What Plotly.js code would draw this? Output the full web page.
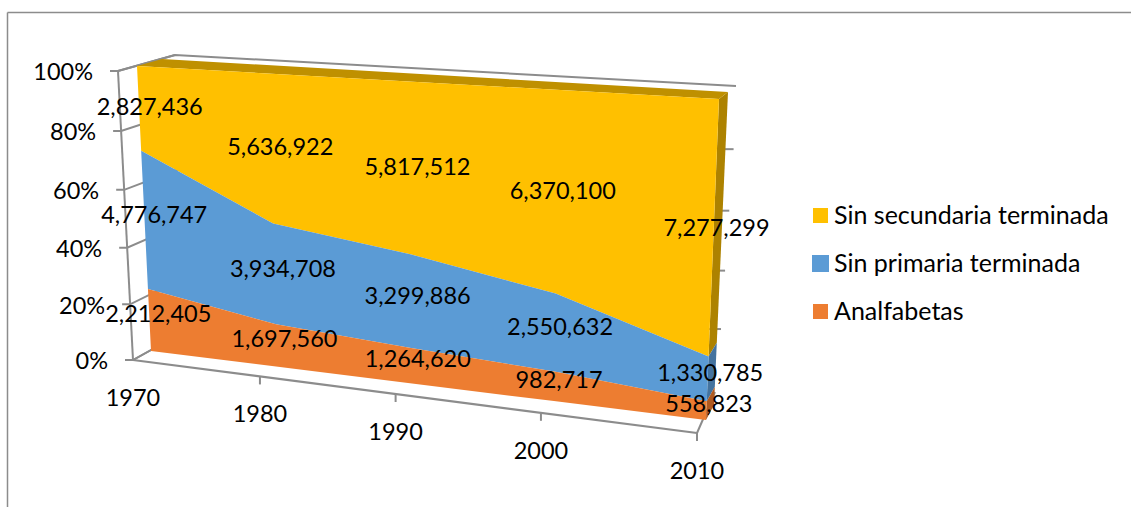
<!DOCTYPE html>
<html><head><meta charset="utf-8">
<script src="https://cdn.plot.ly/plotly-3.0.1.min.js"></script>
<style>html,body{margin:0;padding:0;background:#fff}#c{width:1131px;height:507px}</style>
</head><body><div id="c"></div>
<script>
// ---- data ----
const years = ["1970","1980","1990","2000","2010"];
const analfabetas = [2212405,1697560,1264620,982717,558823];
const sinPrimaria = [4776747,3934708,3299886,2550632,1330785];
const sinSecundaria = [2827436,5636922,5817512,6370100,7277299];
const seriesNames = ["Sin secundaria terminada","Sin primaria terminada","Analfabetas"];
const pctTicks = [0,20,40,60,80,100];

// ---- 3D look: quad corners (TL,TR,BR,BL) of each depth plane, in screen pixels ----
const axisPlane  = [[118,71],[711,103],[697,433],[133,360]];
const frontPlane = [[137,66],[719,99],[706,420],[151,351]];
const backPlane  = [[162,59],[728,92],[714,405],[171,340]];
const wallPlane  = [[175,55],[736,86],[715,392],[187,330]];

function quad(q){ // unit square -> quad, t along category axis, v up the value axis
  const [p3,p2,p1,p0]=[q[0],q[1],q[2],q[3]];
  const dx1=p1[0]-p2[0],dx2=p3[0]-p2[0],sx=p0[0]-p1[0]+p2[0]-p3[0];
  const dy1=p1[1]-p2[1],dy2=p3[1]-p2[1],sy=p0[1]-p1[1]+p2[1]-p3[1];
  const den=dx1*dy2-dx2*dy1;
  const g=(sx*dy2-dx2*sy)/den,h=(dx1*sy-sx*dy1)/den;
  const a=p1[0]-p0[0]+g*p1[0],b=p3[0]-p0[0]+h*p3[0],c=p0[0];
  const d=p1[1]-p0[1]+g*p1[1],e=p3[1]-p0[1]+h*p3[1],f=p0[1];
  return (t,v)=>{const w=g*t+h*v+1;return [(a*t+b*v+c)/w,(d*t+e*v+f)/w];};
}
const A=quad(axisPlane),F=quad(frontPlane),B=quad(backPlane),W=quad(wallPlane);

const n=years.length, T=years.map((_,i)=>i/(n-1));
const totals=years.map((_,i)=>analfabetas[i]+sinPrimaria[i]+sinSecundaria[i]);
const v0=years.map(()=>0);
const v1=years.map((_,i)=>analfabetas[i]/totals[i]);
const v2=years.map((_,i)=>(analfabetas[i]+sinPrimaria[i])/totals[i]);
const v3=years.map(()=>1);

const FS=23.5;
const traces=[];
function poly(pts,color,name){traces.push({type:'scatter',mode:'lines',x:pts.map(p=>p[0]),y:pts.map(p=>p[1]),
  fill:'toself',fillcolor:color,line:{width:0,color:color},hoverinfo:'skip',showlegend:false,name:name||''});}
function line(pts,w){traces.push({type:'scatter',mode:'lines',x:pts.map(p=>p[0]),y:pts.map(p=>p[1]),
  line:{width:w||2,color:'#8c8c8c'},hoverinfo:'skip',showlegend:false});}
function txt(p,s,pos,size){traces.push({type:'scatter',mode:'text',x:[p[0]],y:[p[1]],text:[s],textposition:pos||'middle center',
  textfont:{family:'Lato, Carlito, sans-serif',size:size||FS,color:'#000'},hoverinfo:'skip',showlegend:false});}

// walls and axes
line([A(0,1),W(0,1),W(1,1)]);
line([A(0,0),A(0,1)]);
line([A(0,0),A(1,0)],2.2);
line([A(1,0),W(1,0)]);
pctTicks.forEach(p=>{
  const v=p/100, a=A(0,v), w=W(0,v);
  line([[a[0]-8,a[1]],a,w]);
  if(p>0&&p<100){const e=W(1,v),y=e[1]-(1-v)*6; line([[e[0]-10,y],[e[0]+2,y]]);}
  txt([a[0]-8-17,a[1]+3.5],p+'%','middle left');
});
line([A(0,0),W(0,0)]);
years.forEach((y,i)=>{
  const a=A(T[i],0);
  if(i>0) line([a,[a[0],a[1]+8]]);
  txt([a[0],a[1]+40],y);
});

// side and top faces of the ribbon
const last=n-1;
poly([F(1,v2[last]),B(1,v2[last]),B(1,1),F(1,1)],'#ad8200');
poly([F(1,v1[last]),B(1,v1[last]),B(1,v2[last]),F(1,v2[last])],'#44739f');
poly([F(1,0),B(1,0),B(1,v1[last]),F(1,v1[last])],'#ae5a21');
poly([F(0,1),F(1,1),B(1,1),B(0,1)],'#bf9000');

// front faces
function band(lo,hi,color,name){
  const up=T.map((t,i)=>F(t,hi[i])), dn=T.map((t,i)=>F(t,lo[i])).reverse();
  poly(up.concat(dn),color,name);
}
band(v2,v3,'#ffc000',seriesNames[0]);
band(v1,v2,'#5b9bd5',seriesNames[1]);
band(v0,v1,'#ed7d31',seriesNames[2]);

// data labels: mid-height of each band, between front and back of the ribbon
const fmt=x=>x.toLocaleString('en-US');
function labels(vals,lo,hi,dy){vals.forEach((val,i)=>{
  const m=(lo[i]+hi[i])/2,f=F(T[i],m),b=B(T[i],m);
  txt([(f[0]+b[0])/2-1.5,f[1]+dy],fmt(val));
});}
labels(sinSecundaria,v2,v3,0);
labels(sinPrimaria,v1,v2,-3.5);
labels(analfabetas,v0,v1,-4.5);

// legend
const legendColors=['#ffc000','#5b9bd5','#ed7d31'];
const legendY=[216,264,312];
seriesNames.forEach((s,i)=>{
  traces.push({type:'scatter',mode:'markers',x:[820.5],y:[legendY[i]-0.5],marker:{symbol:'square',size:i==1?17:15,color:legendColors[i]},hoverinfo:'skip',showlegend:false});
  txt([834,legendY[i]+2],s,'middle right',25);
});

const layout={width:1131,height:507,margin:{l:0,r:0,t:0,b:0},paper_bgcolor:'#fff',plot_bgcolor:'#fff',showlegend:false,
  xaxis:{range:[0,1131],visible:false,fixedrange:true},
  yaxis:{range:[507,0],visible:false,fixedrange:true},
  shapes:[{type:'line',xref:'x',yref:'y',x0:7.5,x1:7.5,y0:12.5,y1:507,line:{color:'#8c8c8c',width:1.5}},
          {type:'line',xref:'x',yref:'y',x0:7.5,x1:1131,y0:12.5,y1:12.5,line:{color:'#8c8c8c',width:1.5}}]};
Plotly.newPlot('c',traces,layout,{displayModeBar:false,staticPlot:true});
</script></body></html>
